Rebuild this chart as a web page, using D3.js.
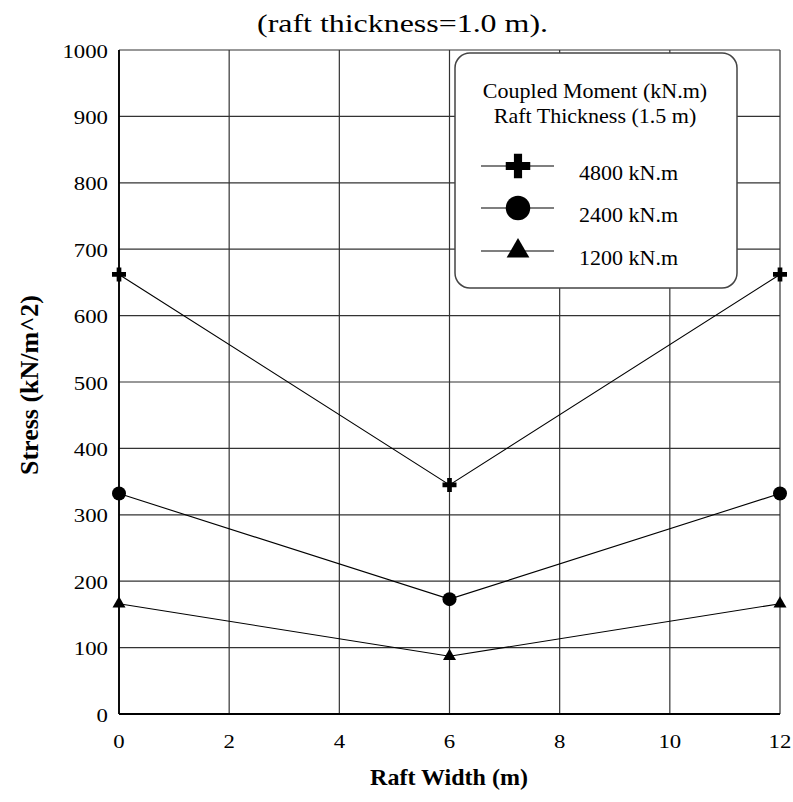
<!DOCTYPE html>
<html>
<head>
<meta charset="utf-8">
<script src="https://cdn.jsdelivr.net/npm/d3@7"></script>
<style>
  body { margin: 0; background: #fff; }
</style>
</head>
<body>
<svg id="chart"></svg>
<script>
const width = 793;
const height = 802;
const margin = {top: 50, right: 13, bottom: 88, left: 119};
const serif = '"Liberation Serif", "Times New Roman", serif';

const raftWidth = [0, 6, 12];
const stress4800 = [662, 345, 662];
const stress2400 = [332, 173, 332];
const stress1200 = [166, 87, 166];
const xTicks = [0, 2, 4, 6, 8, 10, 12];
const yTicks = [0, 100, 200, 300, 400, 500, 600, 700, 800, 900, 1000];

const series = [
  {label: '4800 kN.m', values: stress4800, symbol: 'plus'},
  {label: '2400 kN.m', values: stress2400, symbol: 'circle'},
  {label: '1200 kN.m', values: stress1200, symbol: 'triangle'}
];

const svg = d3.select('#chart')
  .attr('width', width)
  .attr('height', height)
  .attr('font-family', serif);

const x = d3.scaleLinear().domain([0, 12]).range([margin.left, width - margin.right]);
const y = d3.scaleLinear().domain([0, 1000]).range([height - margin.bottom, margin.top]);

// grid
svg.append('g')
  .selectAll('line')
  .data(xTicks)
  .enter()
  .append('line')
  .attr('x1', d => x(d)).attr('x2', d => x(d))
  .attr('y1', y(0)).attr('y2', y(1000))
  .attr('stroke', '#333').attr('stroke-width', 1.2);

svg.append('g')
  .selectAll('line')
  .data(yTicks)
  .enter()
  .append('line')
  .attr('x1', x(0)).attr('x2', x(12))
  .attr('y1', d => y(d)).attr('y2', d => y(d))
  .attr('stroke', '#333').attr('stroke-width', 1.2);

// axis borders
svg.append('line')
  .attr('x1', x(0)).attr('x2', x(12)).attr('y1', y(0)).attr('y2', y(0))
  .attr('stroke', '#000').attr('stroke-width', 1.8);
svg.append('line')
  .attr('x1', x(0)).attr('x2', x(0)).attr('y1', y(0)).attr('y2', y(1000))
  .attr('stroke', '#000').attr('stroke-width', 1.8);

// tick labels (slightly wide, as in the source image)
svg.append('g')
  .selectAll('text')
  .data(xTicks)
  .enter()
  .append('text')
  .attr('transform', d => `translate(${x(d)},${y(0) + 34}) scale(1.2,1)`)
  .attr('text-anchor', 'middle')
  .attr('font-size', 19)
  .text(d => d);

svg.append('g')
  .selectAll('text')
  .data(yTicks)
  .enter()
  .append('text')
  .attr('transform', d => `translate(${x(0) - 11},${y(d) + 7.5}) scale(1.2,1)`)
  .attr('text-anchor', 'end')
  .attr('font-size', 19)
  .text(d => d);

// titles
svg.append('text')
  .attr('x', 257).attr('y', 32)
  .attr('font-size', 25)
  .attr('textLength', 291)
  .attr('lengthAdjust', 'spacingAndGlyphs')
  .text('(raft thickness=1.0 m).');

svg.append('text')
  .attr('x', 449).attr('y', 785)
  .attr('text-anchor', 'middle')
  .attr('font-size', 24).attr('font-weight', 'bold')
  .text('Raft Width (m)');

svg.append('text')
  .attr('transform', 'translate(38, 385) rotate(-90)')
  .attr('text-anchor', 'middle')
  .attr('font-size', 26).attr('font-weight', 'bold')
  .text('Stress (kN/m^2)');

function drawSymbol(g, type, cx, cy, s) {
  if (type == 'plus') {
    g.append('path')
      .attr('d', d3.symbol().type(d3.symbolCross).size(109 * s * s)())
      .attr('transform', `translate(${cx},${cy})`)
      .attr('fill', '#000');
  } else if (type == 'circle') {
    g.append('circle').attr('cx', cx).attr('cy', cy).attr('r', 7 * s).attr('fill', '#000');
  } else {
    g.append('path')
      .attr('d', d3.symbol().type(d3.symbolTriangle).size(73 * s * s)())
      .attr('transform', `translate(${cx},${cy})`)
      .attr('fill', '#000');
  }
}

// lines + markers
const line = d3.line()
  .x((d, i) => x(raftWidth[i]))
  .y(d => y(d));

series.forEach(s => {
  svg.append('path')
    .datum(s.values)
    .attr('fill', 'none')
    .attr('stroke', '#000')
    .attr('stroke-width', 1.1)
    .attr('d', line);
  const g = svg.append('g');
  s.values.forEach((v, i) => drawSymbol(g, s.symbol, x(raftWidth[i]), y(v), 1));
});

// legend
const legend = svg.append('g');
legend.append('rect')
  .attr('x', 455).attr('y', 53)
  .attr('width', 282).attr('height', 235)
  .attr('rx', 15).attr('ry', 15)
  .attr('fill', '#fff')
  .attr('stroke', '#444').attr('stroke-width', 1.5);

legend.append('text')
  .attr('x', 595).attr('y', 98)
  .attr('text-anchor', 'middle').attr('font-size', 22)
  .text('Coupled Moment (kN.m)');
legend.append('text')
  .attr('x', 595).attr('y', 123)
  .attr('text-anchor', 'middle').attr('font-size', 22)
  .text('Raft Thickness (1.5 m)');

const legendY = [166, 208, 251];
series.forEach((s, i) => {
  legend.append('line')
    .attr('x1', 481).attr('x2', 554)
    .attr('y1', legendY[i]).attr('y2', legendY[i])
    .attr('stroke', '#000').attr('stroke-width', 1.1);
  drawSymbol(legend, s.symbol, 518, legendY[i], 1.75);
  legend.append('text')
    .attr('x', 579).attr('y', legendY[i] + 14)
    .attr('font-size', 22)
    .text(s.label);
});
</script>
</body>
</html>
